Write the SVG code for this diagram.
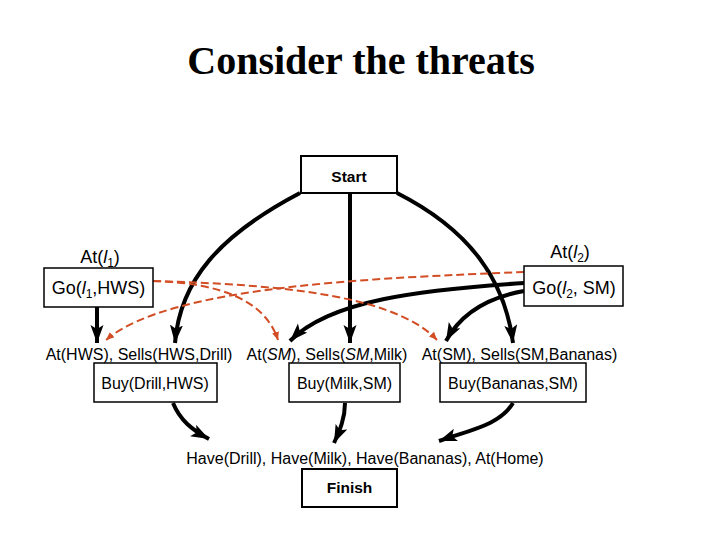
<svg xmlns="http://www.w3.org/2000/svg" width="720" height="540" viewBox="0 0 720 540">
<defs>
<style>
.box{fill:#fff;stroke:#000;stroke-width:1.5}
.bbox{fill:#fff;stroke:#000;stroke-width:2}
.t{font-family:"Liberation Sans",Arial,sans-serif;font-size:16px;fill:#000;text-anchor:middle}
.g{font-size:18px}
.b{font-weight:bold;font-size:15.5px}
.edge{fill:none;stroke:#000;stroke-width:4}
.threat{fill:none;stroke:#d24d24;stroke-width:2;stroke-dasharray:8 4}
</style>
<marker id="ah" markerUnits="userSpaceOnUse" markerWidth="20" markerHeight="14" refX="18" refY="6.5" orient="auto">
<path d="M0,0 L18,6.5 L0,13 L4,6.5 z" fill="#000"/>
</marker>
<marker id="ahr" markerUnits="userSpaceOnUse" markerWidth="10" markerHeight="8" refX="8" refY="3.5" orient="auto">
<path d="M0,0 L8,3.5 L0,7 z" fill="#d24d24"/>
</marker>
</defs>
<rect width="720" height="540" fill="#fff"/>
<text x="361" y="74" font-family="'Liberation Serif','Times New Roman',serif" font-weight="bold" font-size="40" text-anchor="middle">Consider the threats</text>

<g id="connectors">
<path class="edge" d="M300,193 C220,235 180,280 175,343" marker-end="url(#ah)"/>
<path class="edge" d="M350,193 L350,343" marker-end="url(#ah)"/>
<path class="edge" d="M397,193 C470,230 505,280 513,343" marker-end="url(#ah)"/>
<path class="edge" d="M97,307 L97,343" marker-end="url(#ah)"/>
<path class="edge" d="M524,283 C420,290 330,300 290,341" marker-end="url(#ah)"/>
<path class="edge" d="M524,291 C485,298 460,315 446,341" marker-end="url(#ah)"/>
<path class="edge" d="M173,403 C180,420 192,430 209,439" marker-end="url(#ah)"/>
<path class="edge" d="M345,403 C345,418 340,430 334,443" marker-end="url(#ah)"/>
<path class="edge" d="M513,403 C500,425 470,430 439,441" marker-end="url(#ah)"/>
<path class="threat" d="M153,281 C250,284 390,290 437,340" marker-end="url(#ahr)"/>
<path class="threat" d="M153,281 C220,283 265,300 278,340" marker-end="url(#ahr)"/>
<path class="threat" d="M524,272 C380,278 170,285 106,340" marker-end="url(#ahr)"/>
</g>

<g id="start">
<rect class="bbox" x="301" y="156" width="96" height="37"/>
<text class="t b" x="349" y="182">Start</text>
</g>

<g id="go1">
<text class="t g" x="100" y="263">At(<tspan font-style="italic">l</tspan><tspan font-size="12" dy="4">1</tspan><tspan dy="-4">)</tspan></text>
<rect class="box" x="44" y="268" width="109" height="39"/>
<text class="t g" x="98.5" y="294">Go(<tspan font-style="italic">l</tspan><tspan font-size="12" dy="4">1</tspan><tspan dy="-4">,HWS)</tspan></text>
</g>

<g id="go2">
<text class="t g" x="570" y="258">At(<tspan font-style="italic">l</tspan><tspan font-size="12" dy="4">2</tspan><tspan dy="-4">)</tspan></text>
<rect class="box" x="524" y="266" width="99" height="40"/>
<text class="t g" x="574" y="294">Go(<tspan font-style="italic">l</tspan><tspan font-size="12" dy="4">2</tspan><tspan dy="-4">, SM)</tspan></text>
</g>

<g id="buy-drill">
<text class="t" x="139" y="360">At(HWS), Sells(HWS,Drill)</text>
<rect class="box" x="94" y="363" width="123" height="39"/>
<text class="t" x="155" y="389">Buy(Drill,HWS)</text>
</g>

<g id="buy-milk">
<text class="t" x="327" y="360">At(<tspan font-style="italic">SM</tspan>), Sells(<tspan font-style="italic">SM</tspan>,Milk)</text>
<rect class="box" x="289" y="363" width="111" height="39"/>
<text class="t" x="344.5" y="389">Buy(Milk,SM)</text>
</g>

<g id="buy-bananas">
<text class="t" x="519.5" y="360">At(SM), Sells(SM,Bananas)</text>
<rect class="box" x="440" y="363" width="146" height="39"/>
<text class="t" x="513" y="389">Buy(Bananas,SM)</text>
</g>

<g id="finish">
<text class="t" x="365" y="464">Have(Drill), Have(Milk), Have(Bananas), At(Home)</text>
<rect class="bbox" x="302" y="469" width="95" height="38"/>
<text class="t b" x="349.5" y="493">Finish</text>
</g>
</svg>
